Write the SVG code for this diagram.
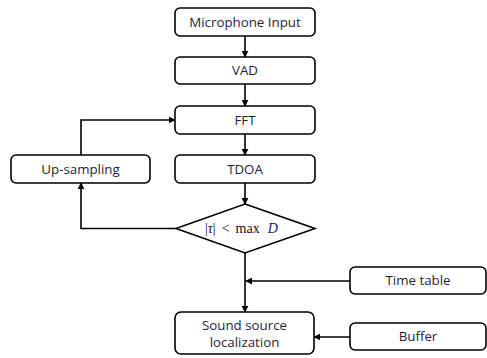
<svg xmlns="http://www.w3.org/2000/svg" width="487" height="358" viewBox="0 0 487 358">
  <style>
    .box { fill: #ffffff; stroke: #000000; stroke-width: 1.6; }
    .lbl { font-family: "Open Sans", "Noto Sans", "DejaVu Sans", sans-serif; font-size: 13.3px; fill: #1f1f3a; text-anchor: middle; }
    .wire { fill: none; stroke: #000000; stroke-width: 1.6; }
    .math { font-family: "Liberation Serif", "Times New Roman", serif; font-size: 14px; fill: #111111; }
  </style>
  <defs>
    <marker id="arrow" viewBox="0 0 10 10" refX="9" refY="5" markerWidth="7" markerHeight="7" markerUnits="userSpaceOnUse" orient="auto">
      <path d="M0,0 L10,5 L0,10 z" fill="#000000"/>
    </marker>
  </defs>
  <rect width="487" height="358" fill="#ffffff"/>

  <g id="connectors">
    <line class="wire" x1="245" y1="36" x2="245" y2="57" marker-end="url(#arrow)"/>
    <line class="wire" x1="245" y1="84" x2="245" y2="106" marker-end="url(#arrow)"/>
    <line class="wire" x1="245" y1="134" x2="245" y2="155" marker-end="url(#arrow)"/>
    <line class="wire" x1="245" y1="183" x2="245" y2="204" marker-end="url(#arrow)"/>
    <polyline class="wire" points="176,228.5 81,228.5 81,183" marker-end="url(#arrow)"/>
    <polyline class="wire" points="81,155 81,120 175,120" marker-end="url(#arrow)"/>
    <line class="wire" x1="245" y1="253" x2="245" y2="312" marker-end="url(#arrow)"/>
    <line class="wire" x1="350" y1="281" x2="245.8" y2="281" marker-end="url(#arrow)"/>
    <line class="wire" x1="350" y1="337" x2="314" y2="337" marker-end="url(#arrow)"/>
  </g>

  <g id="microphone-input">
    <rect class="box" x="175" y="8" width="140" height="28" rx="5"/>
    <text class="lbl" x="245" y="26.5">Microphone Input</text>
  </g>
  <g id="vad">
    <rect class="box" x="175" y="57" width="140" height="27" rx="5"/>
    <text class="lbl" x="245" y="75">VAD</text>
  </g>
  <g id="fft">
    <rect class="box" x="175" y="106" width="140" height="28" rx="5"/>
    <text class="lbl" x="245" y="124.5">FFT</text>
  </g>
  <g id="up-sampling">
    <rect class="box" x="11" y="155" width="139" height="28" rx="5"/>
    <text class="lbl" x="80.5" y="173.5">Up-sampling</text>
  </g>
  <g id="tdoa">
    <rect class="box" x="175" y="155" width="140" height="28" rx="5"/>
    <text class="lbl" x="245" y="173.5">TDOA</text>
  </g>
  <g id="condition">
    <polygon class="box" points="245,204 315,228.5 245,253 176,228.5"/>
    <text class="math" x="205" y="233">|<tspan font-style="italic">τ</tspan>|<tspan dx="6">&lt;</tspan><tspan dx="6">max</tspan><tspan dx="8" font-style="italic" fill="#1a1a66">D</tspan></text>
  </g>
  <g id="time-table">
    <rect class="box" x="350" y="267" width="136" height="27" rx="5"/>
    <text class="lbl" x="418" y="285">Time table</text>
  </g>
  <g id="sound-source-localization">
    <rect class="box" x="175" y="312" width="139" height="42" rx="6"/>
    <text class="lbl" x="244.5" y="330">Sound source</text>
    <text class="lbl" x="244.5" y="347">localization</text>
  </g>
  <g id="buffer">
    <rect class="box" x="350" y="323" width="136" height="27" rx="5"/>
    <text class="lbl" x="418" y="341">Buffer</text>
  </g>
</svg>
